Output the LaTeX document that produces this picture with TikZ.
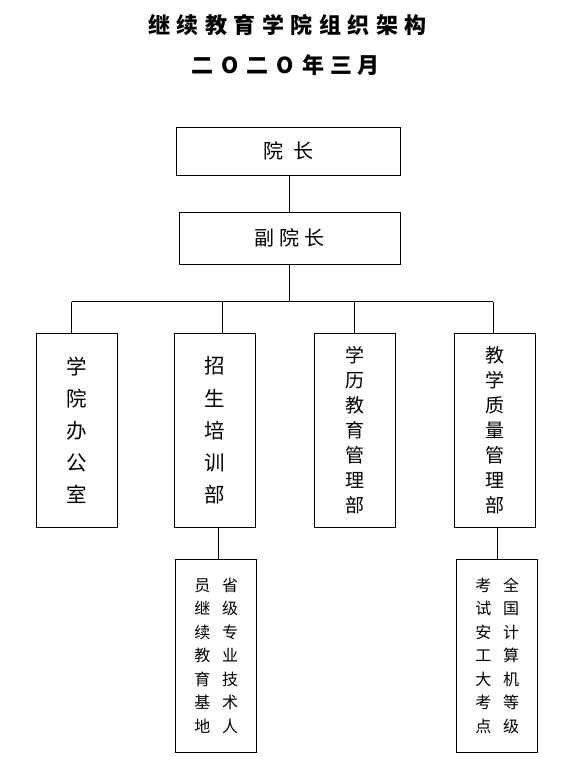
\documentclass[tikz,border=0pt]{standalone}
\usepackage{fontspec}
\setmainfont{Noto Sans CJK SC}
\begin{document}
\begin{tikzpicture}[x=1pt,y=-1pt,
  box/.style={draw=black,line width=1pt,rectangle,inner sep=0pt,align=center,text=black},
  conn/.style={draw=black,line width=1pt},
  title/.style={inner sep=0pt,font=\fontsize{22}{25}\selectfont\bfseries}
]
\useasboundingbox[fill=white] (0,0) rectangle (573,757);
\newcommand\tcell[1]{\makebox[28.5pt]{#1}}
\newcommand\dcell[1]{\makebox[27.8pt]{#1}}
% titles
\node[title] (t1) at (287.5,25) {\tcell{继}\tcell{续}\tcell{教}\tcell{育}\tcell{学}\tcell{院}\tcell{组}\tcell{织}\tcell{架}\tcell{构}};
\node[title] (t2) at (285.5,65) {\dcell{二}\dcell{O}\dcell{二}\dcell{O}\dcell{年}\dcell{三}\dcell{月}};
% top boxes
\node[box,minimum width=224.7pt,minimum height=47.7pt,font=\fontsize{20}{22}\selectfont] (yz) at (288.4,151.2) {院\hspace{10pt}长};
\node[box,minimum width=220.7pt,minimum height=52pt,font=\fontsize{20}{22}\selectfont] (fyz) at (289.7,238.3) {副\hspace{5pt}院\hspace{5pt}长};
% department boxes
\node[box,minimum width=80.6pt,minimum height=194pt,font=\fontsize{20.5}{32.1}\selectfont] (b1) at (77,430.3) {学\\院\\办\\公\\室};
\node[box,minimum width=80.6pt,minimum height=194pt,font=\fontsize{20.5}{32.1}\selectfont] (b2) at (215,430.3) {招\\生\\培\\训\\部};
\node[box,minimum width=81.4pt,minimum height=194pt,font=\fontsize{19}{25}\selectfont] (b3) at (355,430.3) {学\\历\\教\\育\\管\\理\\部};
\node[box,minimum width=81pt,minimum height=194pt,font=\fontsize{19}{25}\selectfont] (b4) at (495.2,430.3) {教\\学\\质\\量\\管\\理\\部};
% sub boxes
\node[box,minimum width=81pt,minimum height=193pt,font=\fontsize{16}{23.5}\selectfont] (b5) at (216.2,655.8)
  {员\hspace{11.7pt}省\\继\hspace{11.7pt}级\\续\hspace{11.7pt}专\\教\hspace{11.7pt}业\\育\hspace{11.7pt}技\\基\hspace{11.7pt}术\\地\hspace{11.7pt}人};
\node[box,minimum width=81pt,minimum height=193pt,font=\fontsize{16}{23.5}\selectfont] (b6) at (497.2,655.8)
  {考\hspace{11.7pt}全\\试\hspace{11.7pt}国\\安\hspace{11.7pt}计\\工\hspace{11.7pt}算\\大\hspace{11.7pt}机\\考\hspace{11.7pt}等\\点\hspace{11.7pt}级};
% coordinates
\coordinate (bus) at (289.5,301.7);
\coordinate (busL) at (71.7,301.7);
\coordinate (busR) at (493.3,301.7);
\coordinate (d1) at (71.7,301.7);
\coordinate (d2) at (222.3,301.7);
\coordinate (d3) at (354.3,301.7);
\coordinate (d4) at (493.3,301.7);
\coordinate (s2) at (218.3,527.3);
\coordinate (s4) at (497.3,527.3);
% connectors
\draw[conn] (yz.south -| bus) -- (fyz.north -| bus);
\draw[conn] (fyz.south -| bus) -- (bus);
\draw[conn] (busL) -- (busR);
\draw[conn] (d1) -- (d1 |- b1.north);
\draw[conn] (d2) -- (d2 |- b2.north);
\draw[conn] (d3) -- (d3 |- b3.north);
\draw[conn] (d4) -- (d4 |- b4.north);
\draw[conn] (s2) -- (s2 |- b5.north);
\draw[conn] (s4) -- (s4 |- b6.north);
\end{tikzpicture}
\end{document}
